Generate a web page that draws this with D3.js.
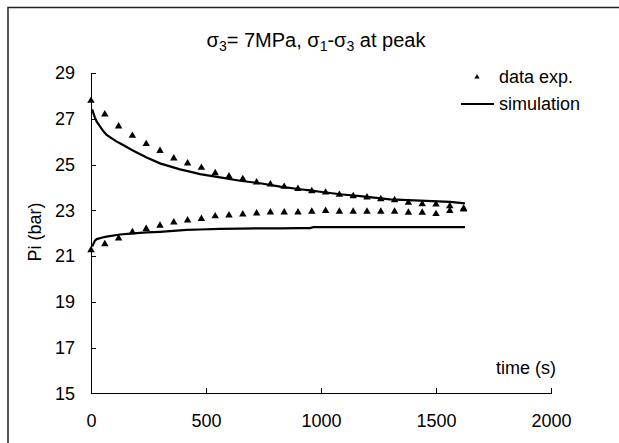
<!DOCTYPE html>
<html lang="en">
<head>
    <meta charset="UTF-8">
    <title>Pi vs time</title>
    <script src="https://d3js.org/d3.v7.min.js"></script>
    <style>
        body { margin: 0; background: #fff; }
        svg text { font-family: "Liberation Sans", Arial, sans-serif; fill: #000; }
        .axis path, .axis line { stroke: #000; stroke-width: 1; shape-rendering: crispEdges; }
        .axis text { font-size: 18px; }
    </style>
</head>
<body>
    <svg width="619" height="443"></svg>

    <script>
        // measured time (s), every 60 s
        const expTime = [0, 60, 120, 180, 240, 300, 360, 420, 480, 540, 600, 660, 720, 780,
            840, 900, 960, 1020, 1080, 1140, 1200, 1260, 1320, 1380, 1440, 1500, 1560, 1620];
        const expUpper = [27.79, 27.19, 26.67, 26.26, 25.9, 25.6, 25.27, 25.05, 24.86, 24.63,
            24.48, 24.37, 24.22, 24.13, 24.03, 23.94, 23.84, 23.78, 23.68, 23.62, 23.57, 23.49,
            23.45, 23.33, 23.27, 23.26, 23.18, 23.08];
        const expLower = [21.26, 21.52, 21.77, 22.05, 22.19, 22.33, 22.47, 22.56, 22.63, 22.74,
            22.78, 22.82, 22.87, 22.91, 22.91, 22.91, 22.94, 22.98, 22.94, 22.94, 22.94, 22.94,
            22.94, 22.9, 22.9, 22.84, 22.98, 23.04];

        // simulation curves
        const simTime = [5, 17, 25, 54, 68, 112, 126, 184, 242, 300, 387, 416, 474, 561, 648,
            735, 822, 909, 952, 967, 996, 1083, 1170, 1300, 1430, 1561, 1626];
        const simUpper = [27.41, 27.05, 26.87, 26.45, 26.29, 26.0, 25.93, 25.6, 25.31, 25.05,
            24.79, 24.72, 24.58, 24.44, 24.29, 24.18, 24.03, 23.92, 23.87, 23.85, 23.81, 23.7,
            23.62, 23.48, 23.42, 23.37, 23.3];
        const simLower = [21.41, 21.67, 21.74, 21.82, 21.85, 21.92, 21.94, 21.99, 22.03, 22.06,
            22.12, 22.14, 22.16, 22.19, 22.2, 22.21, 22.21, 22.22, 22.22, 22.26, 22.26, 22.26,
            22.26, 22.26, 22.26, 22.26, 22.26];

        const xTicks = [0, 500, 1000, 1500, 2000];
        const yTicks = [15, 17, 19, 21, 23, 25, 27, 29];

        const svg = d3.select("svg");

        // outer chart frame (runs off the right and bottom of the picture)
        svg.append("rect")
            .attr("x", 8).attr("y", 7.5)
            .attr("width", 700).attr("height", 500)
            .attr("fill", "none")
            .attr("stroke", "#222")
            .attr("stroke-width", 1.5);

        const x = d3.scaleLinear().domain([0, 2000]).range([91, 551]);
        const y = d3.scaleLinear().domain([15, 29]).range([393.3, 73]);

        svg.append("g")
            .attr("class", "axis")
            .attr("transform", `translate(0,${y(15)})`)
            .call(d3.axisBottom(x).tickValues(xTicks).tickFormat(d3.format("d"))
                .tickSizeInner(-5).tickSizeOuter(0).tickPadding(21));

        svg.append("g")
            .attr("class", "axis")
            .attr("transform", `translate(${x(0)},0)`)
            .call(d3.axisLeft(y).tickValues(yTicks).tickFormat(d3.format("d"))
                .tickSizeInner(-5).tickSizeOuter(0).tickPadding(16));

        // title with subscripts
        const title = svg.append("text")
            .attr("x", 316).attr("y", 47)
            .attr("text-anchor", "middle")
            .style("font-size", "20px");
        const parts = [["σ", 0], ["3", 1], ["= 7MPa, σ", 0], ["1", 1], ["-σ", 0], ["3", 1], [" at peak", 0]];
        let prevSub = 0;
        parts.forEach(([t, sub]) => {
            title.append("tspan")
                .attr("dy", sub === prevSub ? 0 : (sub ? 4 : -4))
                .style("font-size", sub ? "14px" : "20px")
                .text(t);
            prevSub = sub;
        });

        // axis titles
        svg.append("text")
            .attr("transform", "translate(41,232) rotate(-90)")
            .attr("text-anchor", "middle")
            .style("font-size", "18px")
            .text("Pi (bar)");

        svg.append("text")
            .attr("x", 526).attr("y", 374)
            .attr("text-anchor", "middle")
            .style("font-size", "18px")
            .text("time (s)");

        // simulation lines
        const line = d3.line().x(d => x(d[0])).y(d => y(d[1]));
        [simUpper, simLower].forEach(vals => {
            svg.append("path")
                .datum(simTime.map((t, i) => [t, vals[i]]))
                .attr("fill", "none")
                .attr("stroke", "#000")
                .attr("stroke-width", 2.2)
                .attr("d", line);
        });

        // experimental points
        const tri = d3.symbol().type(d3.symbolTriangle).size(24);
        [expUpper, expLower].forEach(vals => {
            svg.append("g").selectAll("path")
                .data(expTime.map((t, i) => [t, vals[i]]))
                .join("path")
                .attr("d", tri)
                .attr("transform", d => `translate(${x(d[0])},${y(d[1])})`)
                .attr("fill", "#000");
        });

        // legend
        const legend = svg.append("g");
        legend.append("path")
            .attr("d", d3.symbol().type(d3.symbolTriangle).size(12)())
            .attr("transform", "translate(477,77)")
            .attr("fill", "#000");
        legend.append("text")
            .attr("x", 499).attr("y", 83)
            .style("font-size", "18px")
            .text("data exp.");
        legend.append("line")
            .attr("x1", 461).attr("x2", 494)
            .attr("y1", 104).attr("y2", 104)
            .attr("stroke", "#000").attr("stroke-width", 2.2);
        legend.append("text")
            .attr("x", 499).attr("y", 110)
            .style("font-size", "18px")
            .text("simulation");
    </script>
</body>
</html>
